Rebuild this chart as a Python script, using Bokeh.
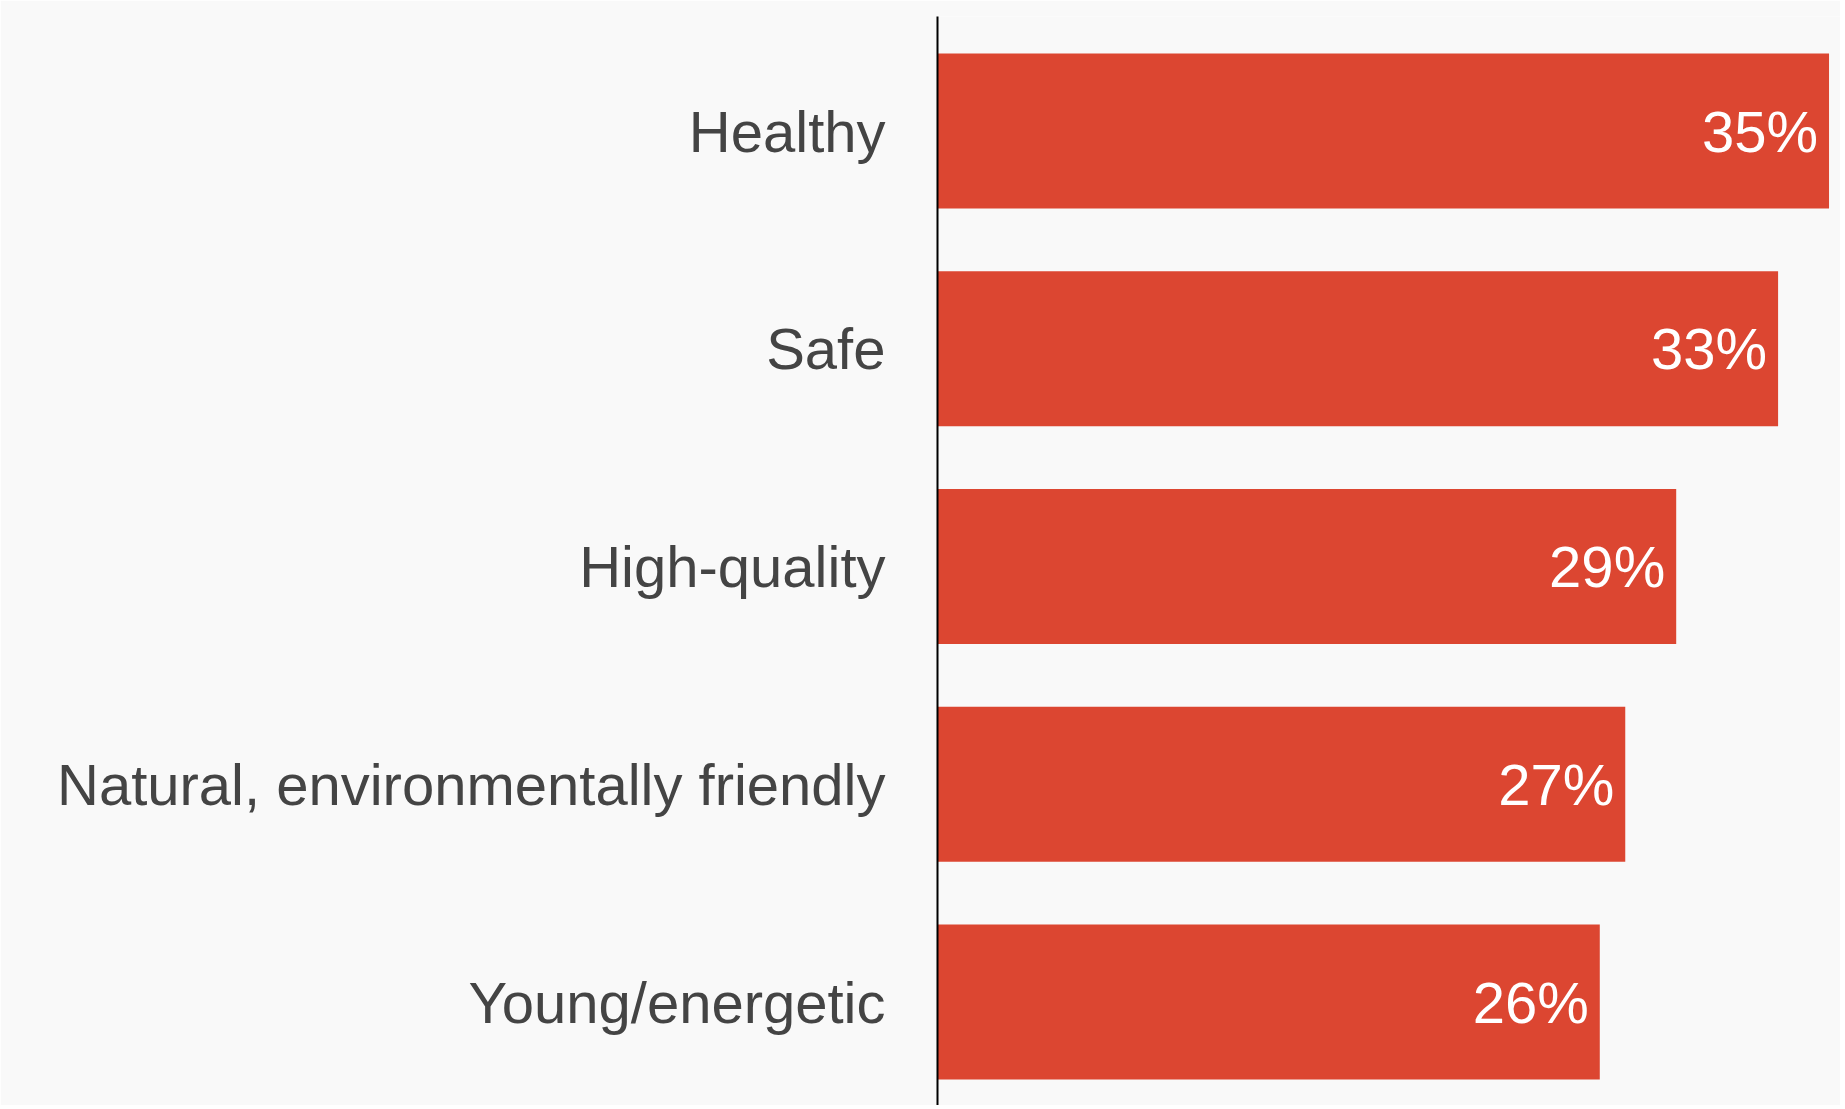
from bokeh.plotting import figure
from bokeh.models import Range1d, FixedTicker, LinearAxis, ColumnDataSource
from bokeh.embed import file_html
from bokeh.resources import INLINE
from bokeh.core.properties import value

categories = ["Healthy", "Safe", "High-quality", "Natural, environmentally friendly", "Young/energetic"]
values = [35, 33, 29, 27, 26]
value_labels = ["35%", "33%", "29%", "27%", "26%"]

positions = list(range(len(categories)))
src = ColumnDataSource(dict(y=positions, v=values, lab=value_labels))

BG = "#f9f9f9"
p = figure(width=1840, height=1105, output_backend="svg", toolbar_location=None,
           x_range=Range1d(0, 35.45), y_range=Range1d(4.475, -0.526),
           min_border_left=937, min_border_right=0, min_border_top=16, min_border_bottom=0,
           background_fill_color=BG, border_fill_color=BG, outline_line_color=None,
           x_axis_location=None, y_axis_location=None)
p.grid.visible = False

p.hbar(y="y", left=0, right="v", height=0.712, source=src, fill_color="#DC4631", line_color=None)
p.text(x="v", y="y", text="lab", source=src, x_offset=-11, text_align="right", text_baseline="middle",
       text_color="white", text_font=value("Liberation Sans"), text_font_size="58px")

ax = LinearAxis(ticker=FixedTicker(ticks=positions),
                major_label_overrides={i: c for i, c in zip(positions, categories)})
ax.axis_line_color = "black"
ax.axis_line_width = 2
ax.major_tick_line_color = None
ax.minor_tick_line_color = None
ax.major_tick_out = 0
ax.major_tick_in = 0
ax.major_label_standoff = 52
ax.major_label_text_font = "Liberation Sans"
ax.major_label_text_font_size = "58px"
ax.major_label_text_color = "#444444"
p.add_layout(ax, "left")

open("out.html", "w").write(file_html(p, INLINE))
